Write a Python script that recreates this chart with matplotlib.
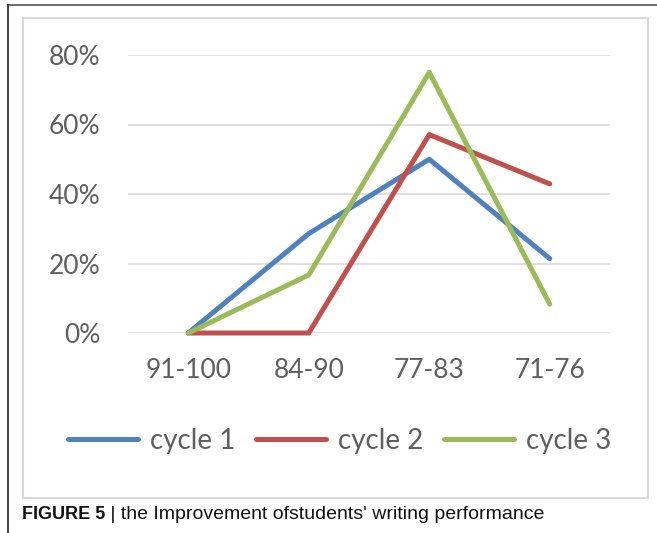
import matplotlib
matplotlib.use('Agg')

import matplotlib.pyplot as plt
from matplotlib.patches import Rectangle
from matplotlib.lines import Line2D
from matplotlib.text import Annotation
from matplotlib.ticker import FuncFormatter

# score bands and share of students per cycle
categories = ["91-100", "84-90", "77-83", "71-76"]
cycle_1 = [0.0, 0.286, 0.50, 0.214]
cycle_2 = [0.0, 0.0, 0.571, 0.429]
cycle_3 = [0.0, 0.167, 0.75, 0.083]
series_names = ["cycle 1", "cycle 2", "cycle 3"]
y_ticks = [0.0, 0.2, 0.4, 0.6, 0.8]

colors = ["#4F81BD", "#C0504D", "#9BBB59"]
W, H = 657, 533

fig = plt.figure(figsize=(W / 100, H / 100), dpi=100)
fig.patch.set_facecolor("white")

# axes placed in pixel terms
left, right, top, bottom = 128, 610, 55, 333
ax = fig.add_axes([left / W, 1 - bottom / H, (right - left) / W, (bottom - top) / H])

x = list(range(len(categories)))
for vals, name, c in zip([cycle_1, cycle_2, cycle_3], series_names, colors):
    ax.plot(x, vals, color=c, lw=3.6, label=name, solid_capstyle='round',
            solid_joinstyle='round', clip_on=False, zorder=3)

ax.set_xlim(-0.5, len(categories) - 0.5)
ax.set_ylim(0, 0.8)
ax.set_yticks(y_ticks)
ax.yaxis.set_major_formatter(FuncFormatter(lambda v, p: "{:.0f}%".format(v * 100)))
ax.set_xticks(x)
ax.set_xticklabels(categories)

for s in ax.spines.values():
    s.set_visible(False)
ax.grid(axis='y', color='#d9d9d9', lw=1.2, zorder=0)
ax.tick_params(axis='both', length=0, labelsize=19, labelcolor='#5f5f5f')
ax.tick_params(axis='y', pad=20)
ax.tick_params(axis='x', pad=18)
for lbl in ax.get_xticklabels() + ax.get_yticklabels():
    lbl.set_family('Lato')

# legend below the plot
handles = [Line2D([0], [0], color=c, lw=3.6, solid_capstyle='round') for c in colors]
fig.legend(handles, series_names, loc='center', bbox_to_anchor=(340 / W, 1 - 441 / H),
           ncol=3, frameon=False, handlelength=2.5, handletextpad=0.45, columnspacing=0.75,
           prop={'family': 'Lato', 'size': 20}, labelcolor='#5f5f5f')

# chart box and page frame lines
fig.add_artist(Rectangle((23 / W, 1 - 498 / H), (648 - 23) / W, (498 - 18) / H,
                         transform=fig.transFigure, fill=False, edgecolor='#d9d9d9', lw=1.5))
fig.add_artist(Line2D([8 / W, 1], [1 - 5 / H, 1 - 5 / H], transform=fig.transFigure,
                      color='#555555', lw=1.2))
fig.add_artist(Line2D([8 / W, 8 / W], [0, 1 - 5 / H], transform=fig.transFigure,
                      color='#222222', lw=1.2))

# caption
t1 = fig.text(22 / W, 1 - 519 / H, "FIGURE 5", fontsize=13, fontweight='bold',
              family='Liberation Sans', va='baseline', color='#111111')
fig.add_artist(Annotation(" | the Improvement ofstudents' writing performance",
                          xy=(1, 0), xycoords=t1, va='bottom', fontsize=14,
                          family='Liberation Sans', color='#111111'))

fig.savefig("out.png", dpi=100)
